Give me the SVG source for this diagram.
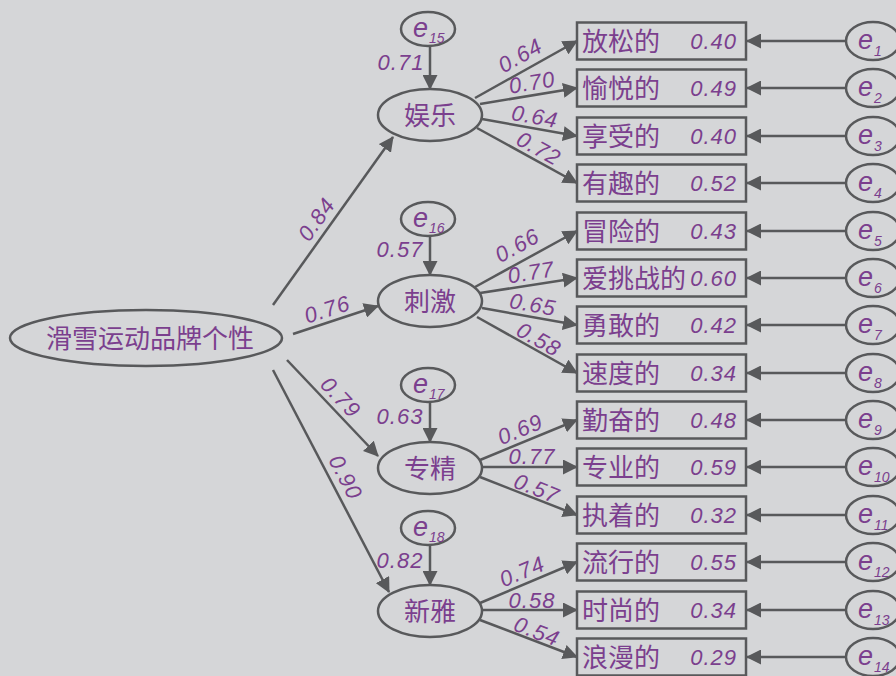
<svg xmlns="http://www.w3.org/2000/svg" width="896" height="676" viewBox="0 0 896 676">
<defs>
<style>
.bg{fill:#d5d6d8}
.sh{fill:#d5d6d8;stroke:#58595b;stroke-width:2.5}
.ln{stroke:#58595b;stroke-width:2.5;fill:none}
.cn{font-family:"Noto Sans CJK SC","Noto Sans CJK JP",sans-serif;font-size:26px;fill:#7b3f8e}
.nm{font-family:"Liberation Sans",Arial,sans-serif;font-style:italic;font-size:22px;letter-spacing:1px;fill:#7b3f8e}
.ev{font-family:"Liberation Sans",Arial,sans-serif;font-style:italic;font-size:27px;fill:#7b3f8e}
.sb{font-size:14px}
</style>
<marker id="ah" viewBox="0 0 15 15" refX="14" refY="7.5" markerWidth="15" markerHeight="15" orient="auto" markerUnits="userSpaceOnUse">
<path d="M0,0 L15,7.5 L0,15 z" fill="#58595b"/>
</marker>
</defs>
<rect class="bg" x="0" y="0" width="896" height="676"/>

<g id="connectors">
<line class="ln" x1="273" y1="305" x2="393" y2="137" marker-end="url(#ah)"/>
<line class="ln" x1="293" y1="334" x2="378" y2="306" marker-end="url(#ah)"/>
<line class="ln" x1="287" y1="360" x2="378" y2="456" marker-end="url(#ah)"/>
<line class="ln" x1="273" y1="370" x2="389" y2="592" marker-end="url(#ah)"/>
<line class="ln" x1="430" y1="46" x2="430" y2="89" marker-end="url(#ah)"/>
<line class="ln" x1="430" y1="235" x2="430" y2="275" marker-end="url(#ah)"/>
<line class="ln" x1="430" y1="402" x2="430" y2="442" marker-end="url(#ah)"/>
<line class="ln" x1="430" y1="545" x2="430" y2="585" marker-end="url(#ah)"/>
<line class="ln" x1="475" y1="98" x2="577" y2="41" marker-end="url(#ah)"/>
<line class="ln" x1="480" y1="104" x2="577" y2="88" marker-end="url(#ah)"/>
<line class="ln" x1="482" y1="119" x2="577" y2="136" marker-end="url(#ah)"/>
<line class="ln" x1="477" y1="128" x2="577" y2="183" marker-end="url(#ah)"/>
<line class="ln" x1="475" y1="287" x2="577" y2="231" marker-end="url(#ah)"/>
<line class="ln" x1="480" y1="293" x2="577" y2="278" marker-end="url(#ah)"/>
<line class="ln" x1="482" y1="308" x2="577" y2="325" marker-end="url(#ah)"/>
<line class="ln" x1="477" y1="317" x2="577" y2="373" marker-end="url(#ah)"/>
<line class="ln" x1="480" y1="460" x2="577" y2="420" marker-end="url(#ah)"/>
<line class="ln" x1="482" y1="467" x2="577" y2="467" marker-end="url(#ah)"/>
<line class="ln" x1="480" y1="477" x2="577" y2="515" marker-end="url(#ah)"/>
<line class="ln" x1="480" y1="603" x2="577" y2="562" marker-end="url(#ah)"/>
<line class="ln" x1="482" y1="610" x2="577" y2="610" marker-end="url(#ah)"/>
<line class="ln" x1="480" y1="620" x2="577" y2="657" marker-end="url(#ah)"/>
<line class="ln" x1="846" y1="41" x2="747" y2="41" marker-end="url(#ah)"/>
<line class="ln" x1="846" y1="88" x2="747" y2="88" marker-end="url(#ah)"/>
<line class="ln" x1="846" y1="136" x2="747" y2="136" marker-end="url(#ah)"/>
<line class="ln" x1="846" y1="183" x2="747" y2="183" marker-end="url(#ah)"/>
<line class="ln" x1="846" y1="231" x2="747" y2="231" marker-end="url(#ah)"/>
<line class="ln" x1="846" y1="278" x2="747" y2="278" marker-end="url(#ah)"/>
<line class="ln" x1="846" y1="325" x2="747" y2="325" marker-end="url(#ah)"/>
<line class="ln" x1="846" y1="373" x2="747" y2="373" marker-end="url(#ah)"/>
<line class="ln" x1="846" y1="420" x2="747" y2="420" marker-end="url(#ah)"/>
<line class="ln" x1="846" y1="467" x2="747" y2="467" marker-end="url(#ah)"/>
<line class="ln" x1="846" y1="515" x2="747" y2="515" marker-end="url(#ah)"/>
<line class="ln" x1="846" y1="562" x2="747" y2="562" marker-end="url(#ah)"/>
<line class="ln" x1="846" y1="610" x2="747" y2="610" marker-end="url(#ah)"/>
<line class="ln" x1="846" y1="657" x2="747" y2="657" marker-end="url(#ah)"/>
<g class="nm" text-anchor="middle">
<text transform="translate(316,219) rotate(-54.5)" y="8">0.84</text>
<text transform="translate(327,309) rotate(-18)" y="8">0.76</text>
<text transform="translate(341,397) rotate(46.5)" y="8">0.79</text>
<text transform="translate(346,477) rotate(62.4)" y="8">0.90</text>
<text x="401" y="70">0.71</text>
<text x="400" y="257">0.57</text>
<text x="400" y="424">0.63</text>
<text x="400" y="568">0.82</text>
<text transform="translate(520,55) rotate(-29.2)" y="8">0.64</text>
<text transform="translate(532,82) rotate(-9.4)" y="8">0.70</text>
<text transform="translate(535,116) rotate(10.1)" y="8">0.64</text>
<text transform="translate(539,148) rotate(28.8)" y="8">0.72</text>
<text transform="translate(517,245) rotate(-28.8)" y="8">0.66</text>
<text transform="translate(531,272) rotate(-8.8)" y="8">0.77</text>
<text transform="translate(533,304) rotate(10.1)" y="8">0.65</text>
<text transform="translate(539,339) rotate(29.2)" y="8">0.58</text>
<text transform="translate(520,429) rotate(-22.4)" y="8">0.69</text>
<text transform="translate(532,456)" y="8">0.77</text>
<text transform="translate(537,488) rotate(21.4)" y="8">0.57</text>
<text transform="translate(522,571) rotate(-22.9)" y="8">0.74</text>
<text transform="translate(532,600)" y="8">0.58</text>
<text transform="translate(537,631) rotate(20.9)" y="8">0.54</text>
</g>
</g>

<g id="main">
<ellipse class="sh" cx="146" cy="338" rx="136" ry="28"/>
<text class="cn" x="150" y="348" text-anchor="middle">滑雪运动品牌个性</text>
</g>

<g id="f1"><ellipse class="sh" cx="430" cy="115" rx="52" ry="26"/><text class="cn" x="430" y="125" text-anchor="middle">娱乐</text></g>
<g id="f2"><ellipse class="sh" cx="430" cy="301" rx="52" ry="26"/><text class="cn" x="430" y="311" text-anchor="middle">刺激</text></g>
<g id="f3"><ellipse class="sh" cx="430" cy="468" rx="52" ry="26"/><text class="cn" x="430" y="478" text-anchor="middle">专精</text></g>
<g id="f4"><ellipse class="sh" cx="430" cy="611" rx="52" ry="26"/><text class="cn" x="430" y="621" text-anchor="middle">新雅</text></g>

<g id="e15"><ellipse class="sh" cx="428" cy="29" rx="27" ry="17"/><text class="ev" x="413" y="37">e<tspan class="sb" dx="1" dy="6">15</tspan></text></g>
<g id="e16"><ellipse class="sh" cx="428" cy="219" rx="27" ry="17"/><text class="ev" x="413" y="227">e<tspan class="sb" dx="1" dy="6">16</tspan></text></g>
<g id="e17"><ellipse class="sh" cx="428" cy="385" rx="27" ry="17"/><text class="ev" x="413" y="393">e<tspan class="sb" dx="1" dy="6">17</tspan></text></g>
<g id="e18"><ellipse class="sh" cx="428" cy="528" rx="27" ry="17"/><text class="ev" x="413" y="536">e<tspan class="sb" dx="1" dy="6">18</tspan></text></g>

<g id="items">
<g id="v1"><rect class="sh" x="577" y="22.5" width="169" height="37"/><text class="cn" x="582" y="51">放松的</text><text class="nm" x="737" y="49" text-anchor="end">0.40</text></g>
<g id="v2"><rect class="sh" x="577" y="69.5" width="169" height="37"/><text class="cn" x="582" y="98">愉悦的</text><text class="nm" x="737" y="96" text-anchor="end">0.49</text></g>
<g id="v3"><rect class="sh" x="577" y="117.5" width="169" height="37"/><text class="cn" x="582" y="146">享受的</text><text class="nm" x="737" y="144" text-anchor="end">0.40</text></g>
<g id="v4"><rect class="sh" x="577" y="164.5" width="169" height="37"/><text class="cn" x="582" y="193">有趣的</text><text class="nm" x="737" y="191" text-anchor="end">0.52</text></g>
<g id="v5"><rect class="sh" x="577" y="212.5" width="169" height="37"/><text class="cn" x="582" y="241">冒险的</text><text class="nm" x="737" y="239" text-anchor="end">0.43</text></g>
<g id="v6"><rect class="sh" x="577" y="259.5" width="169" height="37"/><text class="cn" x="582" y="288">爱挑战的</text><text class="nm" x="737" y="286" text-anchor="end">0.60</text></g>
<g id="v7"><rect class="sh" x="577" y="306.5" width="169" height="37"/><text class="cn" x="582" y="335">勇敢的</text><text class="nm" x="737" y="333" text-anchor="end">0.42</text></g>
<g id="v8"><rect class="sh" x="577" y="354.5" width="169" height="37"/><text class="cn" x="582" y="383">速度的</text><text class="nm" x="737" y="381" text-anchor="end">0.34</text></g>
<g id="v9"><rect class="sh" x="577" y="401.5" width="169" height="37"/><text class="cn" x="582" y="430">勤奋的</text><text class="nm" x="737" y="428" text-anchor="end">0.48</text></g>
<g id="v10"><rect class="sh" x="577" y="448.5" width="169" height="37"/><text class="cn" x="582" y="477">专业的</text><text class="nm" x="737" y="475" text-anchor="end">0.59</text></g>
<g id="v11"><rect class="sh" x="577" y="496.5" width="169" height="37"/><text class="cn" x="582" y="525">执着的</text><text class="nm" x="737" y="523" text-anchor="end">0.32</text></g>
<g id="v12"><rect class="sh" x="577" y="543.5" width="169" height="37"/><text class="cn" x="582" y="572">流行的</text><text class="nm" x="737" y="570" text-anchor="end">0.55</text></g>
<g id="v13"><rect class="sh" x="577" y="591.5" width="169" height="37"/><text class="cn" x="582" y="620">时尚的</text><text class="nm" x="737" y="618" text-anchor="end">0.34</text></g>
<g id="v14"><rect class="sh" x="577" y="638.5" width="169" height="37"/><text class="cn" x="582" y="667">浪漫的</text><text class="nm" x="737" y="665" text-anchor="end">0.29</text></g>
</g>

<g id="errors">
<g id="e1"><ellipse class="sh" cx="873" cy="41" rx="27" ry="19"/><text class="ev" x="858" y="49">e<tspan class="sb" dx="1" dy="7">1</tspan></text></g>
<g id="e2"><ellipse class="sh" cx="873" cy="88" rx="27" ry="19"/><text class="ev" x="858" y="96">e<tspan class="sb" dx="1" dy="7">2</tspan></text></g>
<g id="e3"><ellipse class="sh" cx="873" cy="136" rx="27" ry="19"/><text class="ev" x="858" y="144">e<tspan class="sb" dx="1" dy="7">3</tspan></text></g>
<g id="e4"><ellipse class="sh" cx="873" cy="183" rx="27" ry="19"/><text class="ev" x="858" y="191">e<tspan class="sb" dx="1" dy="7">4</tspan></text></g>
<g id="e5"><ellipse class="sh" cx="873" cy="231" rx="27" ry="19"/><text class="ev" x="858" y="239">e<tspan class="sb" dx="1" dy="7">5</tspan></text></g>
<g id="e6"><ellipse class="sh" cx="873" cy="278" rx="27" ry="19"/><text class="ev" x="858" y="286">e<tspan class="sb" dx="1" dy="7">6</tspan></text></g>
<g id="e7"><ellipse class="sh" cx="873" cy="325" rx="27" ry="19"/><text class="ev" x="858" y="333">e<tspan class="sb" dx="1" dy="7">7</tspan></text></g>
<g id="e8"><ellipse class="sh" cx="873" cy="373" rx="27" ry="19"/><text class="ev" x="858" y="381">e<tspan class="sb" dx="1" dy="7">8</tspan></text></g>
<g id="e9"><ellipse class="sh" cx="873" cy="420" rx="27" ry="19"/><text class="ev" x="858" y="428">e<tspan class="sb" dx="1" dy="7">9</tspan></text></g>
<g id="e10"><ellipse class="sh" cx="873" cy="467" rx="27" ry="19"/><text class="ev" x="858" y="475">e<tspan class="sb" dx="1" dy="7">10</tspan></text></g>
<g id="e11"><ellipse class="sh" cx="873" cy="515" rx="27" ry="19"/><text class="ev" x="858" y="523">e<tspan class="sb" dx="1" dy="7">11</tspan></text></g>
<g id="e12"><ellipse class="sh" cx="873" cy="562" rx="27" ry="19"/><text class="ev" x="858" y="570">e<tspan class="sb" dx="1" dy="7">12</tspan></text></g>
<g id="e13"><ellipse class="sh" cx="873" cy="610" rx="27" ry="19"/><text class="ev" x="858" y="618">e<tspan class="sb" dx="1" dy="7">13</tspan></text></g>
<g id="e14"><ellipse class="sh" cx="873" cy="657" rx="27" ry="19"/><text class="ev" x="858" y="665">e<tspan class="sb" dx="1" dy="7">14</tspan></text></g>
</g>
</svg>
